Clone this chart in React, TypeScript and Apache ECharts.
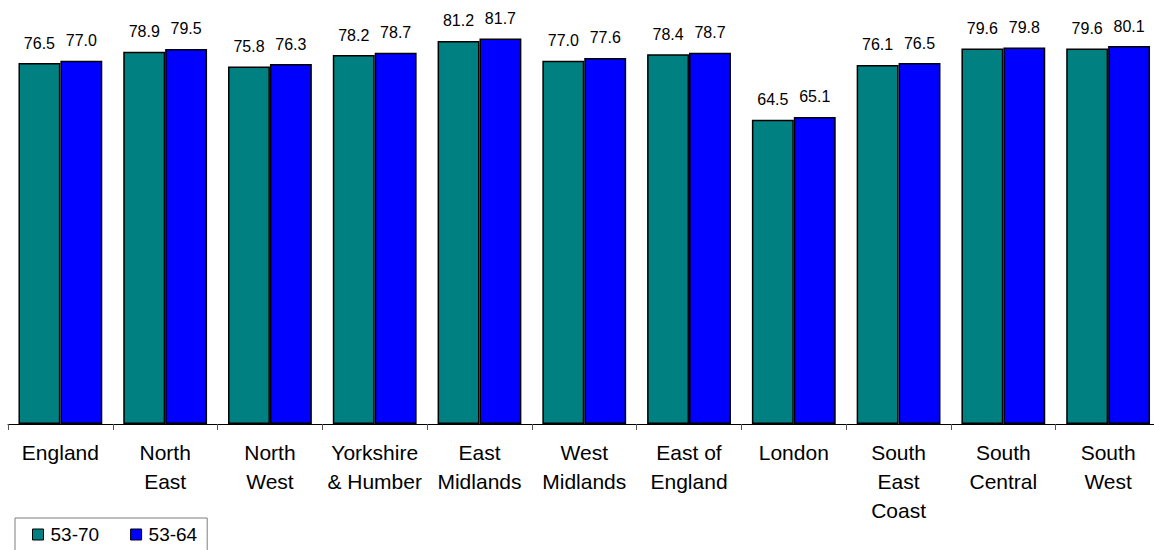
import React, { useEffect, useRef } from "react";
import * as echarts from "echarts";

const categories = [
  "England",
  "North\nEast",
  "North\nWest",
  "Yorkshire\n& Humber",
  "East\nMidlands",
  "West\nMidlands",
  "East of\nEngland",
  "London",
  "South\nEast\nCoast",
  "South\nCentral",
  "South\nWest",
];
const series5370 = [76.5, 78.9, 75.8, 78.2, 81.2, 77.0, 78.4, 64.5, 76.1, 79.6, 79.6];
const series5364 = [77.0, 79.5, 76.3, 78.7, 81.7, 77.6, 78.7, 65.1, 76.5, 79.8, 80.1];
const seriesNames = ["53-70", "53-64"];

const FONT = "'Liberation Sans', Arial, sans-serif";

export default function App() {
  const ref = useRef<HTMLDivElement>(null);
  useEffect(() => {
    if (!ref.current) return;
    const chart = echarts.init(ref.current, undefined, { renderer: "svg" });
    const label = {
      show: true,
      position: "top" as const,
      distance: 12,
      fontSize: 16,
      color: "#000",
      fontFamily: FONT,
      formatter: (p: any) => Number(p.value).toFixed(1),
    };
    chart.setOption({
      animation: false,
      textStyle: { fontFamily: FONT },
      grid: { left: 8, top: 23, width: 1152.5, bottom: 126 },
      legend: {
        left: 15,
        top: 518,
        orient: "horizontal",
        icon: "rect",
        itemWidth: 11,
        itemHeight: 11,
        itemGap: 31,
        padding: [7, 10, 7, 17],
        borderColor: "#7f7f7f",
        borderWidth: 1,
        itemStyle: { borderColor: "#000", borderWidth: 1 },
        textStyle: { fontSize: 19, color: "#000", fontFamily: FONT, padding: [0, 0, 0, 2] },
        data: seriesNames,
      },
      xAxis: {
        type: "category",
        data: categories,
        axisLine: { lineStyle: { color: "#000", width: 1 } },
        axisTick: { show: true, length: 6, lineStyle: { color: "#555" } },
        axisLabel: {
          interval: 0,
          margin: 14,
          fontSize: 21,
          lineHeight: 29,
          color: "#000",
          fontFamily: FONT,
        },
      },
      yAxis: {
        type: "value",
        min: 0,
        max: 85,
        show: false,
        splitLine: { show: false },
      },
      series: [
        {
          name: seriesNames[0],
          type: "bar",
          data: series5370,
          barGap: "0%",
          barCategoryGap: "20%",
          itemStyle: { color: "#008080", borderColor: "#000", borderWidth: 1.5 },
          label,
        },
        {
          name: seriesNames[1],
          type: "bar",
          data: series5364,
          barGap: "0%",
          barCategoryGap: "20%",
          itemStyle: { color: "#0000FF", borderColor: "#000", borderWidth: 1.5 },
          label,
        },
      ],
    });
    return () => chart.dispose();
  }, []);
  return (
    <div
      style={{
        position: "absolute",
        left: 0,
        top: 0,
        width: 1154,
        height: 550,
        overflow: "hidden",
        background: "#fff",
      }}
    >
      <div ref={ref} style={{ width: 1164, height: 550 }} />
    </div>
  );
}
